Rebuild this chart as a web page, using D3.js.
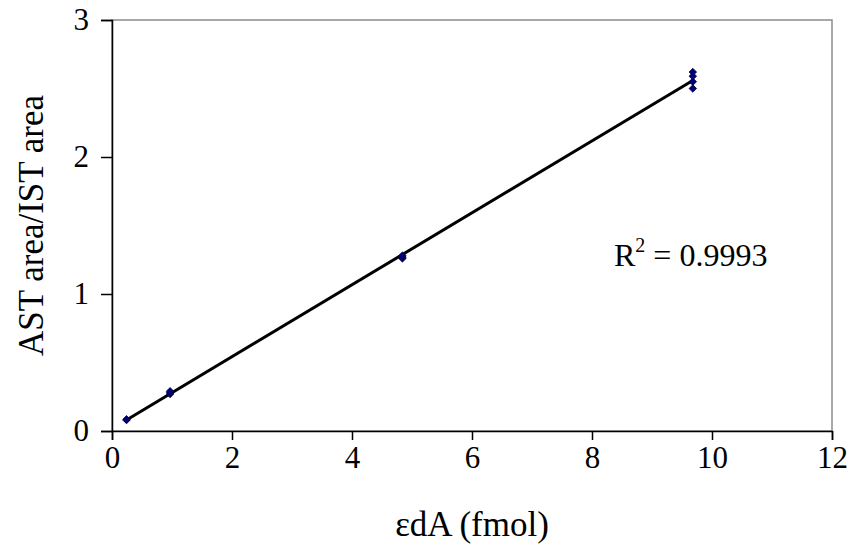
<!DOCTYPE html>
<html>
<head>
<meta charset="utf-8">
<script src="https://cdn.jsdelivr.net/npm/d3@7"></script>
<style>
  body { margin: 0; background: #fff; }
  svg { display: block; font-family: "Liberation Serif", "Times New Roman", serif; }
</style>
</head>
<body>
<svg id="chart" width="854" height="554"></svg>
<script>
// replicate injections at each spiked amount
const amounts = [0.242, 0.242, 0.968, 0.968, 0.968, 4.84, 4.84, 4.84, 9.68, 9.68, 9.68, 9.68];
const ratios = [0.08, 0.085, 0.27, 0.28, 0.29, 1.26, 1.27, 1.28, 2.5, 2.55, 2.59, 2.62];
const xTicks = [0, 2, 4, 6, 8, 10, 12];
const yTicks = [0, 1, 2, 3];
const rSquared = "0.9993";

const svg = d3.select("#chart");
const m = { left: 112, right: 854 - 832, top: 20, bottom: 554 - 431 };
const w = 854 - m.left - m.right;
const h = 554 - m.top - m.bottom;

const x = d3.scaleLinear().domain([0, 12]).range([m.left, m.left + w]);
const y = d3.scaleLinear().domain([0, 3]).range([m.top + h, m.top]);

// plot frame (top + right in grey like excel)
svg.append("rect")
  .attr("x", m.left).attr("y", m.top).attr("width", w).attr("height", h)
  .attr("fill", "none").attr("stroke", "#8c8c8c").attr("stroke-width", 1.5);

const xAxis = svg.append("g")
  .attr("transform", `translate(0,${m.top + h})`)
  .call(d3.axisBottom(x).tickValues(xTicks).tickSize(9).tickPadding(6).tickFormat(d3.format("d")));
const yAxis = svg.append("g")
  .attr("transform", `translate(${m.left},0)`)
  .call(d3.axisLeft(y).tickValues(yTicks).tickSize(11).tickPadding(12).tickFormat(d3.format("d")));

[xAxis, yAxis].forEach((g) => {
  g.select(".domain").attr("stroke", "#000").attr("stroke-width", 1.5);
  g.selectAll(".tick line").attr("stroke", "#000").attr("stroke-width", 1.5);
  g.selectAll(".tick text").attr("fill", "#000")
    .style("font-family", "Liberation Serif, Times New Roman, serif").style("font-size", "31px");
});

// least squares trendline
const mx = d3.mean(amounts), my = d3.mean(ratios);
const slope = d3.sum(amounts, (a, i) => (a - mx) * (ratios[i] - my)) / d3.sum(amounts, (a) => (a - mx) ** 2);
const icpt = my - slope * mx;
const ends = d3.extent(amounts);

svg.append("line")
  .attr("x1", x(ends[0])).attr("y1", y(icpt + slope * ends[0]))
  .attr("x2", x(ends[1])).attr("y2", y(icpt + slope * ends[1]))
  .attr("stroke", "#000").attr("stroke-width", 3);

svg.append("g").selectAll("path")
  .data(amounts)
  .join("path")
  .attr("d", d3.symbol(d3.symbolDiamond2, 36))
  .attr("transform", (a, i) => `translate(${x(a)},${y(ratios[i])})`)
  .attr("fill", "#000080")
  .attr("stroke", "#000033").attr("stroke-width", 0.8);

// R² annotation
const r2 = svg.append("text").attr("x", 614).attr("y", 266)
  .attr("font-size", 32).attr("fill", "#000");
r2.append("tspan").text("R");
r2.append("tspan").attr("dy", -14).attr("font-size", 20).text("2");
r2.append("tspan").attr("dy", 14).text(` = ${rSquared}`);

svg.append("text")
  .attr("x", x(6)).attr("y", 536)
  .attr("text-anchor", "middle").attr("font-size", 35)
  .text("εdA (fmol)");

svg.append("text")
  .attr("transform", `translate(43,${y(1.5)}) rotate(-90)`)
  .attr("text-anchor", "middle").attr("font-size", 35)
  .text("AST area/IST area");
</script>
</body>
</html>
